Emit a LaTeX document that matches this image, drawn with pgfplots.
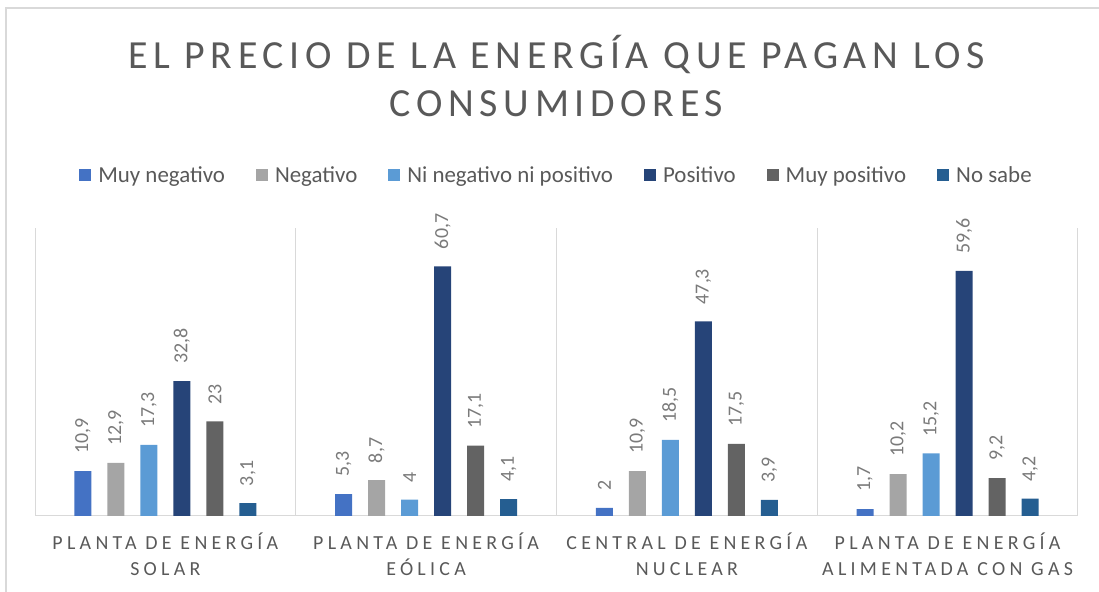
\documentclass[border=0pt]{standalone}
\usepackage{pgfplots}
\pgfplotsset{compat=1.18}
\usepackage{fontspec}
\setmainfont{Carlito}
\newfontfamily\titlefont[LetterSpace=14.2]{Carlito}
\newfontfamily\tickfont[LetterSpace=21.5]{Carlito}
\definecolor{cA}{HTML}{4472C4}
\definecolor{cB}{HTML}{A5A5A5}
\definecolor{cC}{HTML}{5B9BD5}
\definecolor{cD}{HTML}{264478}
\definecolor{cE}{HTML}{636363}
\definecolor{cF}{HTML}{255E91}
\definecolor{txt}{HTML}{595959}
\definecolor{lbl}{HTML}{7A7A7A}
\definecolor{grid}{HTML}{D9D9D9}
\begin{document}
\begin{tikzpicture}[x=1bp,y=1bp]
\useasboundingbox (0,0) rectangle (1099,592);
\draw[grid, line width=1.2bp] (6,0) -- (6,584) -- (1099,584);
\begin{axis}[
  at={(35bp,76bp)}, anchor=south west,
  width=1043bp, height=288bp, scale only axis,
  xmin=-0.5, xmax=3.5, ymin=0, ymax=70,
  clip=false,
  axis x line*=bottom, axis y line=none,
  x axis line style={draw=grid, line width=1bp, -},
  xtick={0,1,2,3},
  xticklabels={{PLANTA DE ENERGÍA\\SOLAR},{PLANTA DE ENERGÍA\\EÓLICA},{CENTRAL DE ENERGÍA\\NUCLEAR},{PLANTA DE ENERGÍA\\ALIMENTADA CON GAS}},
  xticklabel style={align=center, text=txt, font=\tickfont\fontsize{20}{26}\selectfont, yshift=-13bp},
  major tick length=0, minor tick length=0,
  minor xtick={-0.5,0.5,1.5,2.5,3.5},
  xminorgrids=true,
  minor grid style={draw=grid, line width=1bp},
  ybar=16bp, bar width=17bp,
  nodes near coords,
  /pgf/number format/use comma,
  /pgf/number format/assume math mode=true,
  every node near coord/.append style={rotate=90, anchor=west, inner xsep=17bp, inner ysep=0bp, font=\fontsize{20}{24}\selectfont, text=lbl},
  legend columns=6,
  legend style={at={(0.5,1.184)}, anchor=center, draw=none, fill=none, font=\fontsize{23}{27}\selectfont, text=txt,
    /tikz/every even column/.append style={column sep=29bp},
    /tikz/every odd column/.append style={column sep=5bp}},
  legend image code/.code={\fill[#1] (0bp,-6bp) rectangle (12bp,6bp);},
]
\addplot[fill=cA, draw=none] coordinates {(0,10.9) (1,5.3) (2,2) (3,1.7)};
\addplot[fill=cB, draw=none] coordinates {(0,12.9) (1,8.7) (2,10.9) (3,10.2)};
\addplot[fill=cC, draw=none] coordinates {(0,17.3) (1,4) (2,18.5) (3,15.2)};
\addplot[fill=cD, draw=none] coordinates {(0,32.8) (1,60.7) (2,47.3) (3,59.6)};
\addplot[fill=cE, draw=none] coordinates {(0,23) (1,17.1) (2,17.5) (3,9.2)};
\addplot[fill=cF, draw=none] coordinates {(0,3.1) (1,4.1) (2,3.9) (3,4.2)};
\legend{Muy negativo,Negativo,Ni negativo ni positivo,Positivo,Muy positivo,No sabe}
\end{axis}
\node[anchor=base, text=txt, font=\titlefont\fontsize{40}{48}\selectfont] at (556.5,523) {EL PRECIO DE LA ENERGÍA QUE PAGAN LOS};
\node[anchor=base, text=txt, font=\titlefont\fontsize{40}{48}\selectfont] at (556.5,475) {CONSUMIDORES};
\end{tikzpicture}
\end{document}
